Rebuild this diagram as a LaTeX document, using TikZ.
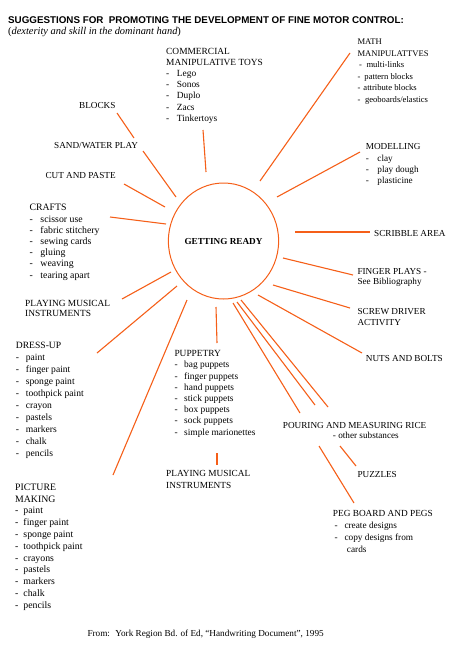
\documentclass[tikz,border=0pt]{standalone}
\usepackage{fontspec}
\setmainfont{Liberation Serif}
\newfontfamily\headfont{Liberation Sans}
\usetikzlibrary{shapes.geometric}
\definecolor{raycol}{RGB}{245,95,25}
\newcommand{\dashitem}[2][10pt]{\makebox[#1][l]{-}#2}

\begin{document}
\begin{tikzpicture}[x=1pt,y=-1pt,
  txt/.style={inner sep=0,anchor=north west,align=left,font=\fontsize{9.4}{11.2}\selectfont},
  one/.style={inner sep=0,anchor=base west,font=\fontsize{9.2}{11}\selectfont},
  ray/.style={draw=raycol,line width=1.1pt}]
\useasboundingbox (0,0) rectangle (450,645);

% heading
\node[inner sep=0,anchor=base west,font=\headfont\bfseries\fontsize{9.8}{11}\selectfont] (title) at (8,23.8)
  {SUGGESTIONS FOR \ PROMOTING THE DEVELOPMENT OF FINE MOTOR CONTROL:};
\node[inner sep=0,anchor=base west,font=\fontsize{10.4}{12}\selectfont] (subtitle) at (8,34.8)
  {(\textit{dexterity and skill in the dominant hand})};

% centre
\node[draw=raycol,line width=1pt,ellipse,minimum width=105.5pt,minimum height=116pt,inner sep=0,
  font=\bfseries\fontsize{9.2}{11}\selectfont] (ready) at (223.5,241) {GETTING READY};

% left side
\node[one] (blocks) at (79,108) {BLOCKS};
\node[one] (sandwater) at (54,148) {SAND/WATER PLAY};
\node[one] (cutpaste) at (45.3,178) {CUT AND PASTE};
\node[txt,font=\fontsize{9.8}{11.2}\selectfont] (crafts) at (29.3,204.2) {CRAFTS\\
  \dashitem[11pt]{scissor use}\\ \dashitem[11pt]{fabric stitchery}\\ \dashitem[11pt]{sewing cards}\\
  \dashitem[11pt]{gluing}\\ \dashitem[11pt]{weaving}\\ \dashitem[11pt]{tearing apart}};
\node[txt,font=\fontsize{9.4}{10}\selectfont] (musicl) at (25,300.2) {PLAYING MUSICAL\\INSTRUMENTS};
\node[txt,font=\fontsize{9.6}{12}\selectfont] (dressup) at (15.7,341.9) {DRESS-UP\\
  \dashitem{paint}\\ \dashitem{finger paint}\\ \dashitem{sponge paint}\\ \dashitem{toothpick paint}\\
  \dashitem{crayon}\\ \dashitem{pastels}\\ \dashitem{markers}\\ \dashitem{chalk}\\ \dashitem{pencils}};
\node[txt,font=\fontsize{9.8}{11.8}\selectfont] (picture) at (15,483.6) {PICTURE\\MAKING\\
  \dashitem[8.3pt]{paint}\\ \dashitem[8.3pt]{finger paint}\\ \dashitem[8.3pt]{sponge paint}\\
  \dashitem[8.3pt]{toothpick paint}\\ \dashitem[8.3pt]{crayons}\\ \dashitem[8.3pt]{pastels}\\
  \dashitem[8.3pt]{markers}\\ \dashitem[8.3pt]{chalk}\\ \dashitem[8.3pt]{pencils}};

% middle
\node[txt] (commercial) at (166,47.7) {COMMERCIAL\\MANIPULATIVE TOYS\\
  \dashitem[10.7pt]{Lego}\\ \dashitem[10.7pt]{Sonos}\\ \dashitem[10.7pt]{Duplo}\\
  \dashitem[10.7pt]{Zacs}\\ \dashitem[10.7pt]{Tinkertoys}};
\node[txt] (puppetry) at (174.3,350.3) {PUPPETRY\\
  \dashitem[9.7pt]{bag puppets}\\ \dashitem[9.7pt]{finger puppets}\\ \dashitem[9.7pt]{hand puppets}\\
  \dashitem[9.7pt]{stick puppets}\\ \dashitem[9.7pt]{box puppets}\\ \dashitem[9.7pt]{sock puppets}\\
  \dashitem[9.7pt]{simple marionettes}};
\node[txt,font=\fontsize{9.3}{11.7}\selectfont] (musicb) at (166,470.3) {PLAYING MUSICAL\\INSTRUMENTS};

% right side
\node[txt,font=\fontsize{8.6}{11.5}\selectfont] (math) at (357.3,38.7) {MATH\\MANIPULATTVES\\
  \hspace{1.5pt}\dashitem[7.5pt]{multi-links}\\ \dashitem[7pt]{pattern blocks}\\
  \dashitem[6pt]{attribute blocks}\\ \dashitem[7.5pt]{geoboards/elastics}};
\node[txt,font=\fontsize{9.2}{11.3}\selectfont] (modelling) at (365.7,143.7) {MODELLING\\
  \dashitem[11.6pt]{clay}\\ \dashitem[11.6pt]{play dough}\\ \dashitem[11.6pt]{plasticine}};
\node[one] (scribble) at (374,236.3) {SCRIBBLE AREA};
\node[txt,font=\fontsize{9.2}{10}\selectfont] (fingerplays) at (357.3,268) {FINGER PLAYS -\\See Bibliography};
\node[txt,font=\fontsize{9.2}{11}\selectfont] (screw) at (357.3,308.7) {SCREW DRIVER\\ACTIVITY};
\node[one] (nuts) at (365.7,361.3) {NUTS AND BOLTS};
\node[txt,font=\fontsize{9.2}{10}\selectfont] (pouring) at (282.7,422) {POURING AND MEASURING RICE\\
  \hspace{50pt}- other substances};
\node[one] (puzzles) at (357.3,477) {PUZZLES};
\node[txt,font=\fontsize{9.3}{12.2}\selectfont] (pegboard) at (332.7,509.7) {PEG BOARD AND PEGS\\
  \hspace{1.6pt}\dashitem{create designs}\\ \hspace{1.6pt}\dashitem{copy designs from}\\ \hspace{14pt}cards};

% source
\node[one,font=\fontsize{9.2}{10}\selectfont] (source) at (87.3,636)
  {From: \ York Region Bd. of Ed, ``Handwriting Document'', 1995};

% rays
\coordinate (r1a) at (203,130);  \coordinate (r1b) at (206,172);
\coordinate (r2a) at (117,113);  \coordinate (r2b) at (134,138);
\coordinate (r3a) at (143,151);  \coordinate (r3b) at (176,197);
\coordinate (r4a) at (124,184);  \coordinate (r4b) at (165,207);
\coordinate (r5a) at (110,217);  \coordinate (r5b) at (166,224);
\coordinate (r6a) at (122,299);  \coordinate (r6b) at (171,272);
\coordinate (r7a) at (97,353);   \coordinate (r7b) at (177,286);
\coordinate (r8a) at (113,475);  \coordinate (r8b) at (187,300);
\coordinate (r9a) at (216,307);  \coordinate (r9b) at (217,343);
\coordinate (r10a) at (217,453); \coordinate (r10b) at (217,465);
\coordinate (r11a) at (233,303); \coordinate (r11b) at (300,413);
\coordinate (r12a) at (237,302); \coordinate (r12b) at (315,405);
\coordinate (r13a) at (241,300); \coordinate (r13b) at (328,407);
\coordinate (r14a) at (258,295); \coordinate (r14b) at (362,353);
\coordinate (r15a) at (273,285); \coordinate (r15b) at (350,308);
\coordinate (r16a) at (283,258); \coordinate (r16b) at (353,275);
\coordinate (r17a) at (295,232); \coordinate (r17b) at (370,232);
\coordinate (r18a) at (277,197); \coordinate (r18b) at (360,152);
\coordinate (r19a) at (260,181); \coordinate (r19b) at (350,53);
\coordinate (r20a) at (340,446); \coordinate (r20b) at (356,466);
\coordinate (r21a) at (319,446); \coordinate (r21b) at (354,503);
\draw[ray] (r1a)--(r1b);
\draw[ray] (r2a)--(r2b);
\draw[ray] (r3a)--(r3b);
\draw[ray] (r4a)--(r4b);
\draw[ray] (r5a)--(r5b);
\draw[ray] (r6a)--(r6b);
\draw[ray] (r7a)--(r7b);
\draw[ray] (r8a)--(r8b);
\draw[ray] (r9a)--(r9b);
\draw[ray] (r10a)--(r10b);
\draw[ray] (r11a)--(r11b);
\draw[ray] (r12a)--(r12b);
\draw[ray] (r13a)--(r13b);
\draw[ray] (r14a)--(r14b);
\draw[ray] (r15a)--(r15b);
\draw[ray] (r16a)--(r16b);
\draw[ray] (r17a)--(r17b);
\draw[ray] (r18a)--(r18b);
\draw[ray] (r19a)--(r19b);
\draw[ray] (r20a)--(r20b);
\draw[ray] (r21a)--(r21b);
\end{tikzpicture}
\end{document}
